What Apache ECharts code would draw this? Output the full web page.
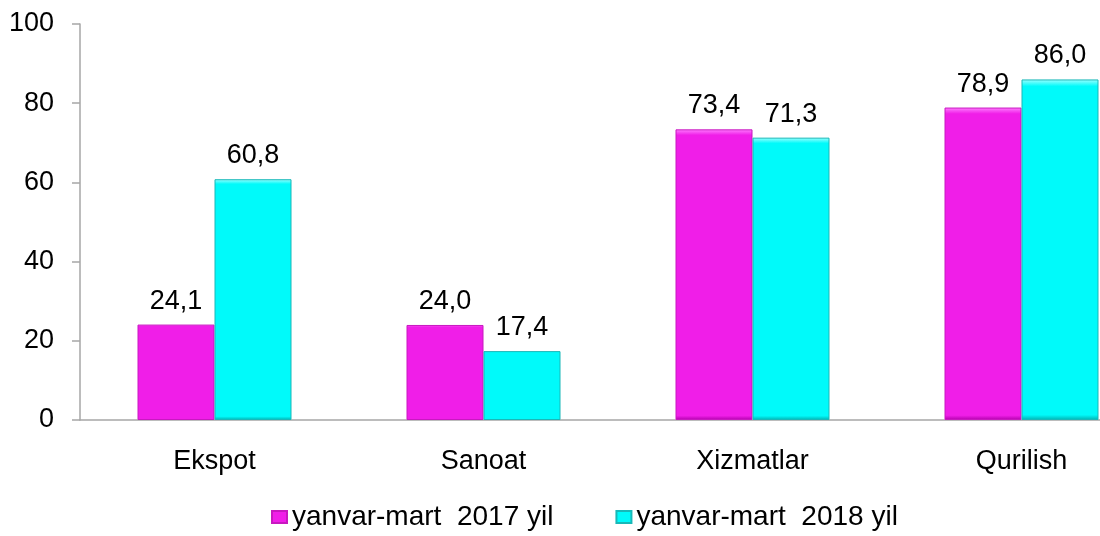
<!DOCTYPE html>
<html>
<head>
<meta charset="utf-8">
<script src="https://cdn.jsdelivr.net/npm/echarts@6/dist/echarts.min.js"></script>
<style>
  html, body { margin: 0; padding: 0; background: #fff; }
  #chart { width: 1100px; height: 536px; }
</style>
</head>
<body>
<div id="chart"></div>
<script>
const categories = ['Ekspot', 'Sanoat', 'Xizmatlar', 'Qurilish']
const seriesNames = ['yanvar-mart  2017 yil', 'yanvar-mart  2018 yil']
const values2017 = [24.1, 24.0, 73.4, 78.9]
const values2018 = [60.8, 17.4, 71.3, 86.0]
const yTicks = [0, 20, 40, 60, 80, 100]

const font = 'Liberation Sans, Arial, sans-serif'

function bevel (light, mid, dark) {
  return {
    type: 'linear', x: 0, y: 0, x2: 0, y2: 1,
    colorStops: [
      { offset: 0, color: light },
      { offset: 0.02, color: mid },
      { offset: 0.985, color: mid },
      { offset: 1, color: dark }
    ]
  }
}

const labelStyle = {
  show: true,
  position: 'top',
  distance: 10,
  fontFamily: font,
  fontSize: 27,
  color: '#000',
  formatter: p => p.value.toFixed(1).replace('.', ',')
}

const chart = echarts.init(document.getElementById('chart'))
chart.setOption({
  animation: false,
  grid: { left: 80, top: 24, width: 1076, height: 396, outerBoundsMode: 'none', containLabel: false },
  legend: {
    bottom: 0,
    left: 266,
    icon: 'rect',
    itemWidth: 15,
    itemHeight: 12,
    itemGap: 62,
    textStyle: { fontFamily: font, fontSize: 28, color: '#000' },
    data: seriesNames
  },
  xAxis: {
    type: 'category',
    data: categories,
    axisLine: { lineStyle: { color: '#a6a6a6', width: 1.5 } },
    axisTick: { show: false },
    axisLabel: { fontFamily: font, fontSize: 27, color: '#000', margin: 28 }
  },
  yAxis: {
    type: 'value',
    min: yTicks[0],
    max: yTicks[yTicks.length - 1],
    interval: 20,
    splitLine: { show: false },
    axisLine: { show: true, lineStyle: { color: '#a6a6a6', width: 1.5 } },
    axisTick: { show: true, length: 8, lineStyle: { color: '#a6a6a6', width: 1.5 } },
    axisLabel: { fontFamily: font, fontSize: 27, color: '#000', margin: 26 }
  },
  series: [
    {
      name: seriesNames[0],
      type: 'bar',
      data: values2017,
      barWidth: 77,
      barGap: '0%',
      itemStyle: {
        color: bevel('#ff80ff', '#f01ee8', '#b000aa'),
        borderColor: '#c818c0',
        borderWidth: 1
      },
      label: labelStyle
    },
    {
      name: seriesNames[1],
      type: 'bar',
      data: values2018,
      barWidth: 77,
      itemStyle: {
        color: bevel('#a0ffff', '#00fafa', '#00b0b0'),
        borderColor: '#18b8b8',
        borderWidth: 1
      },
      label: labelStyle
    }
  ]
})
</script>
</body>
</html>
